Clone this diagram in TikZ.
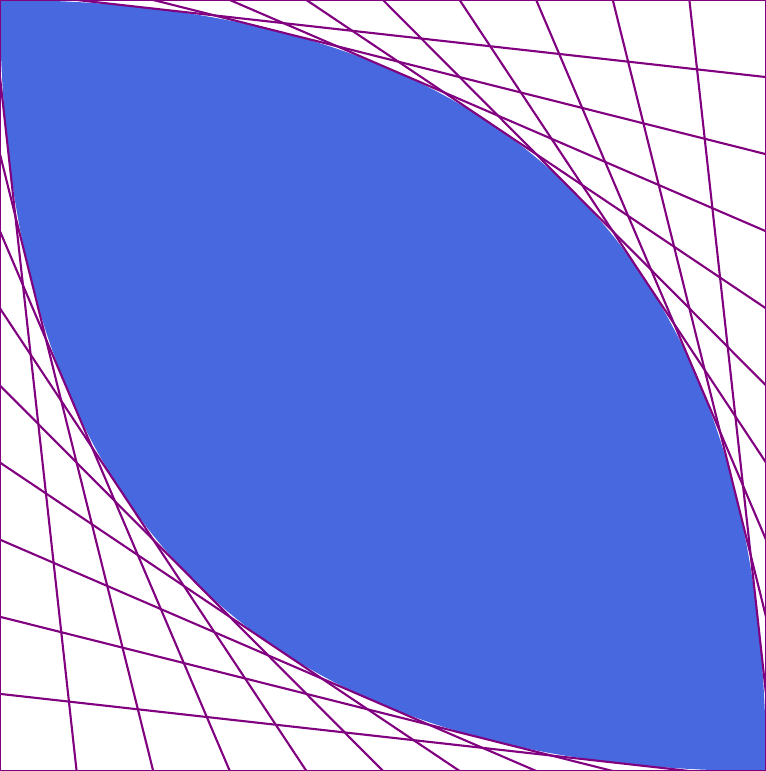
\documentclass[tikz,border=0pt]{standalone}
\usepackage{xcolor}
\usepackage{tikz}
\usetikzlibrary{calc}

\definecolor{hoatim}{RGB}{128,0,128}
\definecolor{xanhhoang}{RGB}{72,104,224}

\begin{document}
\begin{tikzpicture}[>=latex, scale=1,
    daycang/.style={hoatim, line width=0.6pt},
    vienkhung/.style={hoatim, line width=0.7pt},
    vunglong/.style={fill=xanhhoang}]
    \useasboundingbox (0,0) rectangle (7.66,7.71);
    % Các đỉnh hình vuông
    \coordinate (tl) at (0,7.71);
    \coordinate (tr) at (7.66,7.71);
    \coordinate (br) at (7.66,0);
    \coordinate (bl) at (0,0);
    
    % Miền tô màu giữa hai đường bao
    \fill[vunglong] (tl) .. controls ($(tl)!2/3!(tr)$) and ($(br)!2/3!(tr)$) .. (br)
        .. controls ($(br)!2/3!(bl)$) and ($(tl)!2/3!(bl)$) .. (tl) -- cycle;
    
    % Các đoạn thẳng tạo đường bao
    \foreach \k in {1,...,9} {
        \draw[daycang] ($(tl)!\k/10!(tr)$) -- ($(tr)!\k/10!(br)$);
        \draw[daycang] ($(tl)!\k/10!(bl)$) -- ($(bl)!\k/10!(br)$);
    }
    % Khung
    \draw[vienkhung] (bl) rectangle (tr);
\end{tikzpicture}
\end{document}
